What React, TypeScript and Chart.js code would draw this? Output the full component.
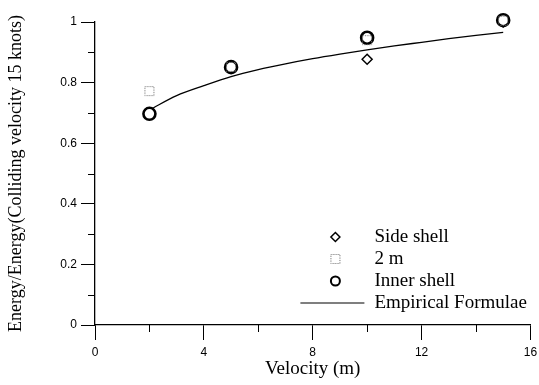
import React, { useEffect, useRef } from "react";
import { Chart, registerables } from "chart.js";

Chart.register(...registerables);

const sideShell = [
  { x: 2, y: 0.70 },
  { x: 5, y: 0.85 },
  { x: 10, y: 0.877 },
  { x: 15, y: 1.0 },
];
const twoM = [
  { x: 2, y: 0.772 },
  { x: 5, y: 0.852 },
  { x: 10, y: 0.94 },
  { x: 15, y: 1.004 },
];
const innerShell = [
  { x: 2, y: 0.697 },
  { x: 5, y: 0.851 },
  { x: 10, y: 0.948 },
  { x: 15, y: 1.006 },
];
const empiricalX = [2, 3, 4, 5, 6, 7, 8, 9, 10, 11, 12, 13, 14, 15];
const empiricalY = [0.71, 0.757, 0.79, 0.82, 0.843, 0.862, 0.879, 0.894, 0.908, 0.921, 0.933, 0.945, 0.956, 0.966];
const xMajorTicks = [0, 4, 8, 12, 16];
const xMinorTicks = [2, 6, 10, 14];
const yMinorTicks = [0.1, 0.3, 0.5, 0.7, 0.9];
const legendLabels = ["Side shell", "2 m", "Inner shell", "Empirical Formulae"];

const serif = "'Liberation Serif', 'Times New Roman', serif";
const sans = "'Liberation Sans', Arial, sans-serif";

function makeDottedSquare(): HTMLCanvasElement {
  const c = document.createElement("canvas");
  c.width = 14;
  c.height = 14;
  const g = c.getContext("2d")!;
  g.strokeStyle = "#777";
  g.lineWidth = 1;
  g.setLineDash([1.2, 1.2]);
  g.strokeRect(2.5, 2.5, 9, 9);
  return c;
}

export default function App() {
  const ref = useRef<HTMLCanvasElement | null>(null);

  useEffect(() => {
    document.body.style.margin = "0";
    const sq = makeDottedSquare();

    const minorTicks = {
      id: "minorTicks",
      afterDraw(chart: any) {
        const ctx = chart.ctx;
        const xs = chart.scales.x;
        const ys = chart.scales.y;
        const area = chart.chartArea;
        ctx.save();
        ctx.strokeStyle = "#000";
        ctx.lineWidth = 1;
        ctx.beginPath();
        xMinorTicks.forEach((v) => {
          const px = Math.round(xs.getPixelForValue(v)) + 0.5;
          ctx.moveTo(px, area.bottom);
          ctx.lineTo(px, area.bottom + 7);
        });
        yMinorTicks.forEach((v) => {
          const py = Math.round(ys.getPixelForValue(v)) + 0.5;
          ctx.moveTo(area.left, py);
          ctx.lineTo(area.left - 7, py);
        });
        ctx.stroke();
        ctx.restore();
      },
    };

    const legend = {
      id: "customLegend",
      afterDraw(chart: any) {
        const ctx = chart.ctx;
        const area = chart.chartArea;
        const mx = area.right - 195;
        const tx = area.right - 156;
        const rows = [area.bottom - 88, area.bottom - 66, area.bottom - 44, area.bottom - 22];
        ctx.save();
        ctx.fillStyle = "#000";
        ctx.font = "19px " + serif;
        ctx.textBaseline = "middle";
        legendLabels.forEach((t, i) => ctx.fillText(t, tx, rows[i]));
        // diamond
        ctx.strokeStyle = "#000";
        ctx.lineWidth = 1.5;
        ctx.beginPath();
        ctx.moveTo(mx, rows[0] - 4.5);
        ctx.lineTo(mx + 4.5, rows[0]);
        ctx.lineTo(mx, rows[0] + 4.5);
        ctx.lineTo(mx - 4.5, rows[0]);
        ctx.closePath();
        ctx.stroke();
        // square
        ctx.drawImage(sq, mx - 7, rows[1] - 7);
        // circle
        ctx.lineWidth = 2;
        ctx.beginPath();
        ctx.arc(mx, rows[2], 4.5, 0, Math.PI * 2);
        ctx.stroke();
        // line
        ctx.lineWidth = 1.2;
        ctx.beginPath();
        ctx.moveTo(mx - 35, rows[3]);
        ctx.lineTo(mx + 29, rows[3]);
        ctx.stroke();
        ctx.restore();
      },
    };

    const chart = new Chart(ref.current!, {
      type: "scatter",
      data: {
        datasets: [
          {
            label: "Empirical Formulae",
            data: empiricalX.map((x, i) => ({ x, y: empiricalY[i] })),
            showLine: true,
            tension: 0.4,
            cubicInterpolationMode: "monotone",
            pointRadius: 0,
            borderColor: "#000",
            borderWidth: 1.3,
            clip: false,
            order: 4,
          } as any,
          {
            label: "Side shell",
            data: sideShell,
            pointStyle: "rectRot",
            pointRadius: 5,
            borderColor: "#000",
            borderWidth: 1.5,
            backgroundColor: "transparent",
            clip: false,
            order: 3,
          },
          {
            label: "Inner shell",
            data: innerShell,
            pointStyle: "circle",
            pointRadius: 6,
            borderColor: "#000",
            borderWidth: 2.6,
            backgroundColor: "#fff",
            clip: false,
            order: 2,
          },
          {
            label: "2 m",
            data: twoM,
            pointStyle: sq as any,
            pointRadius: 6,
            clip: false,
            order: 1,
          },
        ],
      },
      options: {
        animation: false,
        responsive: false,
        layout: { padding: { top: 22, right: 7, left: 0, bottom: 0 } },
        plugins: { legend: { display: false }, tooltip: { enabled: false } },
        scales: {
          x: {
            type: "linear",
            min: 0,
            max: 16,
            afterBuildTicks: (s: any) => {
              s.ticks = xMajorTicks.map((v) => ({ value: v }));
            },
            ticks: { color: "#000", font: { family: sans, size: 12 }, padding: 5 },
            grid: { drawOnChartArea: false, tickLength: 15, color: "#000", lineWidth: 1 },
            border: { color: "#000", width: 1.3 },
            title: {
              display: true,
              text: "Velocity (m)",
              color: "#000",
              font: { family: serif, size: 19 },
              padding: { top: 0, bottom: 5 },
            },
            afterFit: (s: any) => {
              s.height = 60;
              s.paddingRight = 0;
              s.paddingLeft = 0;
            },
          },
          y: {
            type: "linear",
            min: 0,
            max: 1,
            ticks: {
              stepSize: 0.2,
              color: "#000",
              font: { family: sans, size: 12 },
              padding: 4,
              callback: (v: any) => (v === 0 ? "0" : v === 1 ? "1" : Number(v).toFixed(1)),
            },
            grid: { drawOnChartArea: false, tickLength: 14, color: "#000", lineWidth: 1 },
            border: { color: "#000", width: 1.3 },
            title: {
              display: true,
              text: "Energy/Energy(Colliding velocity 15 knots)",
              color: "#000",
              font: { family: serif, size: 18 },
              padding: { top: 5, bottom: 0 },
            },
            afterFit: (s: any) => {
              s.width = 95;
            },
          },
        },
      },
      plugins: [minorTicks, legend],
    });
    return () => chart.destroy();
  }, []);

  return (
    <div style={{ position: "fixed", left: 0, top: 0, width: 539, height: 385, background: "#fff" }}>
      <canvas ref={ref} width={539} height={385} style={{ display: "block" }} />
    </div>
  );
}
